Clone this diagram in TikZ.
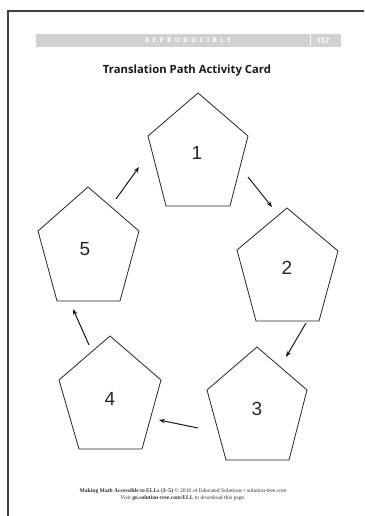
\documentclass[tikz,border=0pt]{standalone}
\usepackage{fontspec}
\setmainfont{Liberation Sans}
\newfontfamily\titlefont{Open Sans}
\newfontfamily\footfont{Liberation Serif}
\newfontfamily\barfont[LetterSpace=55]{Open Sans}
\usetikzlibrary{arrows.meta}
\begin{document}
\begin{tikzpicture}[x=1pt,y=-1pt,
 pent/.style={draw=black!85, line width=0.8pt, line join=miter},
 num/.style={font=\fontsize{19}{19}\selectfont, text=black!85, inner sep=0pt},
 conn/.style={draw=black!90, line width=1pt, -{Stealth[length=6pt,width=4.5pt]}},
 frameline/.style={draw=black!75, line width=1.3pt},
 foot/.style={font=\footfont\fontsize{5.6}{6}\selectfont, text=black!80, inner sep=0pt}]
\useasboundingbox (0,0) rectangle (364,516);
\fill[white] (0,0) rectangle (364,516);
\draw[frameline] (8,516) -- (8,11) -- (364,11);
\fill[black!18] (36,34) rectangle (341,47);
\node[inner sep=0pt, text=white] (rep) at (188,40.5) {\barfont\bfseries\fontsize{6.3}{7}\selectfont REPRODUCIBLE};
\draw[white, line width=1pt] (310,35) -- (310,46.5);
\node[inner sep=0pt, text=white] (pg) at (323,40.5) {\titlefont\bfseries\fontsize{7.5}{8}\selectfont 157};
\node[inner sep=0pt, text=black!90] (title) at (187,71) {\titlefont\bfseries\fontsize{11.3}{13}\selectfont Translation Path Activity Card};
% pentagons
\draw[pent] (198,93) -- (248,136) -- (230,206) -- (166,206) -- (148,136) -- cycle;
\draw[pent] (287,208) -- (338,251) -- (319,321) -- (256,321) -- (237,250) -- cycle;
\draw[pent] (257,347) -- (307,390) -- (289,460) -- (226,460) -- (207,390) -- cycle;
\draw[pent] (110,336) -- (161,380) -- (142,449) -- (79,449) -- (59,380) -- cycle;
\draw[pent] (88,187) -- (139,231) -- (120,301) -- (57,301) -- (38,231) -- cycle;
\node[num] (n1) at (197,153) {1};
\node[num] (n2) at (287,268) {2};
\node[num] (n3) at (257,409) {3};
\node[num] (n4) at (110,399) {4};
\node[num] (n5) at (85,249) {5};
% arrows
\coordinate (a1s) at (248,177); \coordinate (a1e) at (272,207);
\coordinate (a2s) at (306,323); \coordinate (a2e) at (286,357);
\coordinate (a3s) at (198,428); \coordinate (a3e) at (159,420);
\coordinate (a4s) at (89,345);  \coordinate (a4e) at (73,309);
\coordinate (a5s) at (116,199); \coordinate (a5e) at (139,167);
\draw[conn] (a1s) -- (a1e);
\draw[conn] (a2s) -- (a2e);
\draw[conn] (a3s) -- (a3e);
\draw[conn] (a4s) -- (a4e);
\draw[conn] (a5s) -- (a5e);
% footer
\node[foot] (f1) at (183,491) {\textbf{Making Math Accessible to ELLs (3–5)} © 2010 r4 Educated Solutions • solution-tree.com};
\node[foot] (f2) at (183,498) {Visit \textbf{go.solution-tree.com/ELL} to download this page.};
\end{tikzpicture}
\end{document}
